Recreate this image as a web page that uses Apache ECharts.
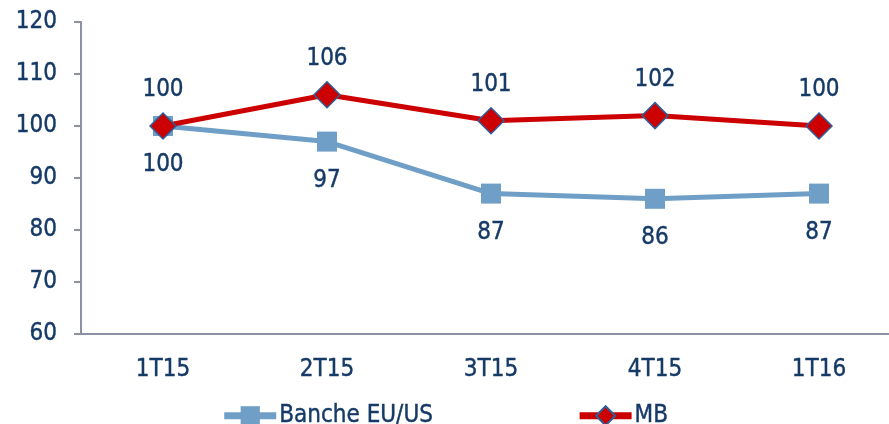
<!DOCTYPE html>
<html>
<head>
<meta charset="utf-8">
<script src="https://cdn.jsdelivr.net/npm/echarts@6/dist/echarts.min.js"></script>
<style>
  html, body { margin: 0; padding: 0; background: #fff; }
  #chart { width: 889px; height: 424px; }
</style>
</head>
<body>
<div id="chart"></div>
<script>
const categories = ['1T15', '2T15', '3T15', '4T15', '1T16']
const bancheValues = [100, 97, 87, 86, 87]
const mbValues = [100, 106, 101, 102, 100]

const textColor = '#163a66'
const axisColor = '#8c91a3'
const font = '"DejaVu Sans Condensed", "DejaVu Sans", sans-serif'

// shared text look, slightly heavier than the plain face
const txt = {
  color: textColor,
  fontFamily: font,
  fontSize: 24,
  textBorderColor: textColor,
  textBorderWidth: 0.4,
}

const chart = echarts.init(document.getElementById('chart'))
chart.setOption({
  animation: false,
  // the category axis runs a bit past the right edge in the original
  grid: { left: 81, width: 820, top: 22, bottom: 90, outerBoundsMode: 'none' },
  legend: {
    bottom: -9,
    left: 'center',
    itemWidth: 52,
    itemHeight: 24,
    itemGap: 143,
    lineStyle: { width: 7 },
    textStyle: { ...txt, padding: [0, 0, 0, -2] },
    data: ['Banche EU/US', 'MB'],
  },
  xAxis: {
    type: 'category',
    data: categories,
    axisLine: { lineStyle: { color: axisColor, width: 2 } },
    axisTick: { length: 7, lineStyle: { color: axisColor, width: 2 } },
    axisLabel: { ...txt, margin: 24 },
  },
  yAxis: {
    type: 'value',
    min: 60,
    max: 120,
    interval: 10,
    splitLine: { show: false },
    axisLine: { show: true, lineStyle: { color: axisColor, width: 2 } },
    axisTick: { show: true, length: 7, lineStyle: { color: axisColor, width: 2 } },
    axisLabel: { ...txt, margin: 24 },
  },
  series: [
    {
      name: 'Banche EU/US',
      type: 'line',
      data: bancheValues,
      symbol: 'rect',
      symbolSize: 20,
      z: 2,
      lineStyle: { color: '#6f9fc6', width: 5 },
      itemStyle: { color: '#6f9fc6' },
      label: { show: true, position: 'bottom', distance: 17, ...txt },
    },
    {
      name: 'MB',
      type: 'line',
      data: mbValues,
      symbol: 'diamond',
      symbolSize: 26,
      z: 3,
      lineStyle: { color: '#cc0000', width: 5 },
      itemStyle: { color: '#cc0000', borderColor: '#2f5f99', borderWidth: 1.5 },
      label: { show: true, position: 'top', distance: 10, ...txt },
    },
  ],
})
</script>
</body>
</html>
